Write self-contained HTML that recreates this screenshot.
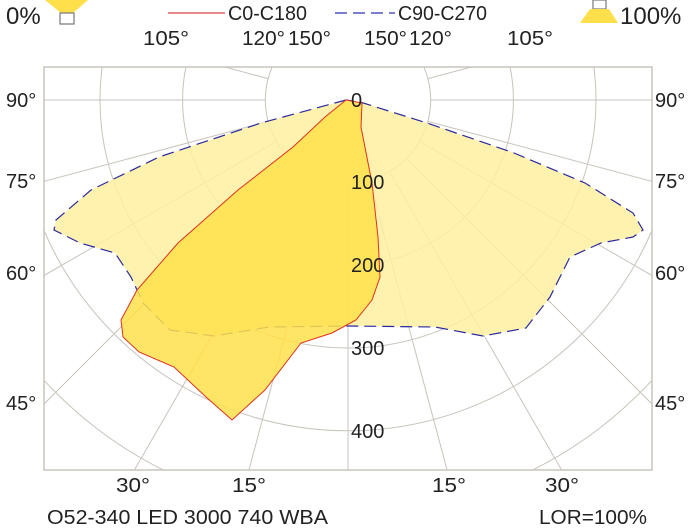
<!DOCTYPE html><html><head><meta charset="utf-8"><style>html,body{margin:0;padding:0;background:#fff;width:697px;height:532px;overflow:hidden}svg{display:block;font-family:"Liberation Sans",sans-serif}</style></head><body>
<svg width="697" height="532" viewBox="0 0 697 532">
<defs><clipPath id="c"><rect x="44" y="67" width="608" height="403"/></clipPath></defs>
<g clip-path="url(#c)" fill="none" stroke="#c8c4bc" stroke-width="1">
<circle cx="348" cy="100" r="82.7"/><circle cx="348" cy="100" r="165.4"/><circle cx="348" cy="100" r="248"/><circle cx="348" cy="100" r="330.8"/><circle cx="348" cy="100" r="413.5"/><circle cx="348" cy="100" r="496"/><circle cx="348" cy="100" r="579"/>
<line x1="348" y1="182.7" x2="348" y2="900"/>
<line x1="369.4" y1="179.9" x2="555" y2="873"/><line x1="326.6" y1="179.9" x2="141" y2="873"/>
<line x1="389.4" y1="171.6" x2="748" y2="793"/><line x1="306.6" y1="171.6" x2="-52" y2="793"/>
<line x1="406.5" y1="158.5" x2="914" y2="666"/><line x1="289.5" y1="158.5" x2="-218" y2="666"/>
<line x1="419.6" y1="141.4" x2="1041" y2="500"/><line x1="276.4" y1="141.4" x2="-345" y2="500"/>
<line x1="427.9" y1="121.4" x2="1121" y2="307"/><line x1="268.1" y1="121.4" x2="-425" y2="307"/>
<line x1="430.7" y1="100" x2="1148" y2="100"/><line x1="265.3" y1="100" x2="-452" y2="100"/>
<line x1="427.9" y1="78.6" x2="1121" y2="-107"/><line x1="268.1" y1="78.6" x2="-425" y2="-107"/>
<line x1="419.6" y1="58.6" x2="1041" y2="-300"/><line x1="276.4" y1="58.6" x2="-345" y2="-300"/>
<line x1="406.5" y1="41.5" x2="914" y2="-466"/><line x1="289.5" y1="41.5" x2="-218" y2="-466"/>
</g>
<rect x="44" y="67" width="608" height="403" fill="none" stroke="#c8c4bc" stroke-width="1.5"/>
<polygon points="346,100 261,123 159,157 91,190 56,220 54,230 80,243 115,253 131,277 143,303 170,330 214,336 269,327 348,326 435,327 483,336 526,328 550,297 570,257 601,243 633,237 643,230 633,213 585,183 514,153 427,123 360,102" fill="#fff0a0" fill-opacity="0.85" stroke="#2a2aa0" stroke-width="1.2" stroke-dasharray="12,6"/>
<polygon points="346,100 325,117 293,147 238,190 178,243 137,290 121,320 123,337 139,352 174,367 206,397 232,420 265,390 301,343 332,333 356,320 372,300 380,277 378,237 372,183 361,127 362,103" fill="#ffe04a" fill-opacity="0.85" stroke="#e03020" stroke-width="1"/>
<g font-size="20" fill="#222" lengthAdjust="spacingAndGlyphs">
<text x="351" y="107">0</text><text x="351" y="189">100</text><text x="351" y="272">200</text><text x="351" y="355">300</text><text x="351" y="438">400</text>
<text x="6" y="107">90°</text><text x="6" y="188">75°</text><text x="6" y="280">60°</text><text x="6" y="410">45°</text>
<text x="655" y="107">90°</text><text x="655" y="188">75°</text><text x="655" y="280">60°</text><text x="655" y="410">45°</text>
<text x="143" y="45" textLength="46" lengthAdjust="spacingAndGlyphs">105°</text><text x="242" y="45" textLength="43" lengthAdjust="spacingAndGlyphs">120°</text><text x="288" y="45" textLength="43" lengthAdjust="spacingAndGlyphs">150°</text>
<text x="364" y="45" textLength="43" lengthAdjust="spacingAndGlyphs">150°</text><text x="409" y="45" textLength="43" lengthAdjust="spacingAndGlyphs">120°</text><text x="507" y="45" textLength="46" lengthAdjust="spacingAndGlyphs">105°</text>
<text x="116" y="492" textLength="34" lengthAdjust="spacingAndGlyphs">30°</text><text x="232" y="492" textLength="34" lengthAdjust="spacingAndGlyphs">15°</text><text x="432" y="492" textLength="34" lengthAdjust="spacingAndGlyphs">15°</text><text x="545" y="492" textLength="34" lengthAdjust="spacingAndGlyphs">30°</text>
<text x="47" y="524" textLength="281" lengthAdjust="spacingAndGlyphs">O52-340 LED 3000 740 WBA</text><text x="539" y="524" textLength="108" lengthAdjust="spacingAndGlyphs">LOR=100%</text>
<text x="228" y="20" textLength="79" lengthAdjust="spacingAndGlyphs">C0-C180</text><text x="398" y="20" textLength="89" lengthAdjust="spacingAndGlyphs">C90-C270</text>
</g>
<line x1="168" y1="13" x2="225" y2="13" stroke="#e06060" stroke-width="1.5"/>
<line x1="335" y1="13" x2="395" y2="13" stroke="#5050c0" stroke-width="1.5" stroke-dasharray="12,6"/>
<text x="6" y="24" font-size="24" fill="#222">0%</text>
<polygon points="45,0 88,0 73,13 61,13" fill="#ffe04a"/><rect x="60" y="13" width="14" height="11" fill="#fff" stroke="#777" stroke-width="1.2"/>
<rect x="593" y="0" width="13" height="9" fill="#fff" stroke="#777" stroke-width="1.2"/><polygon points="590,9 609,9 618,23 580,23" fill="#ffe04a"/>
<text x="620" y="24" font-size="24" fill="#222">100%</text>
</svg></body></html>
